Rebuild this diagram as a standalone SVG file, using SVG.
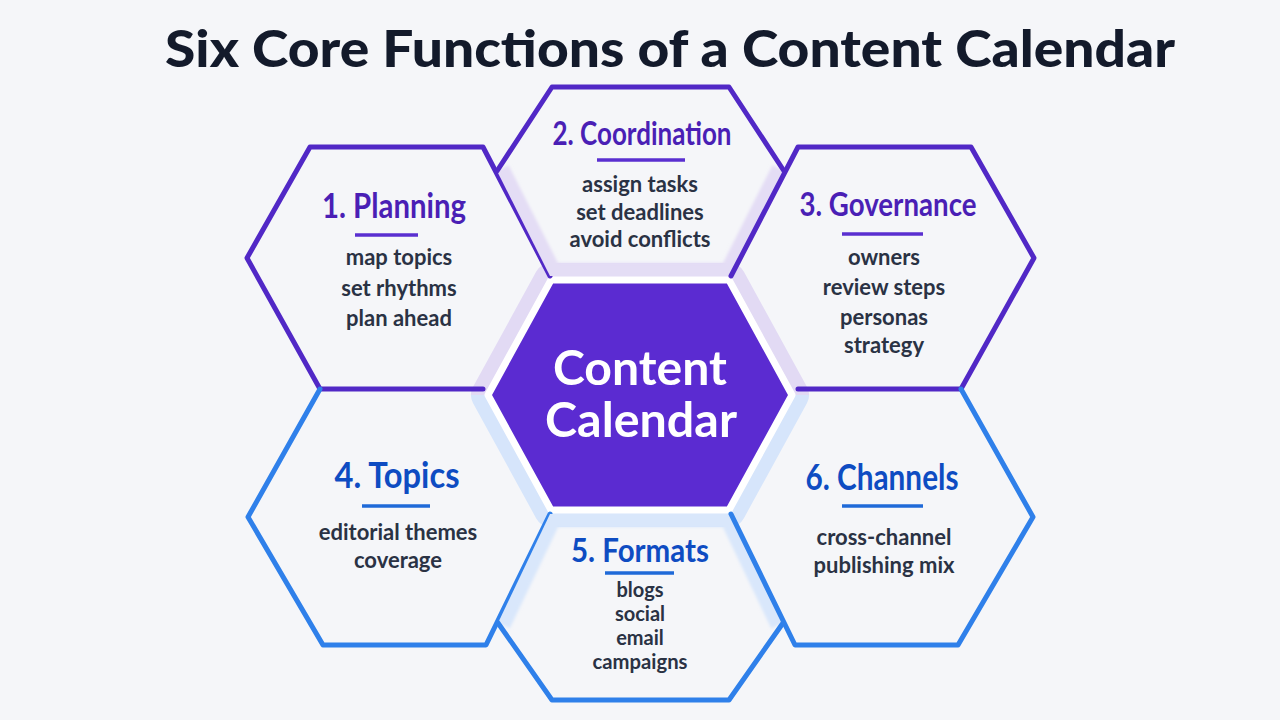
<svg xmlns="http://www.w3.org/2000/svg" width="1280" height="720" viewBox="0 0 1280 720">
  <defs>
    <linearGradient id="halo" gradientUnits="userSpaceOnUse" x1="0" y1="255" x2="0" y2="535">
      <stop offset="0" stop-color="#e2daf4"/>
      <stop offset="0.5" stop-color="#e2daf4"/>
      <stop offset="0.5" stop-color="#d6e5fb"/>
      <stop offset="1" stop-color="#d6e5fb"/>
    </linearGradient>
    <clipPath id="clip2"><polygon points="552,87 729,87 784,171 731,276 550,276 497,171"/></clipPath>
    <clipPath id="clip5"><polygon points="498,623 550,514 731,514 783,623 729,700 552,700"/></clipPath>
    <filter id="soft" x="-10%" y="-10%" width="120%" height="120%"><feGaussianBlur stdDeviation="1.5"/></filter>
  </defs>
  <style>
    .title { font-family: Lato, "Liberation Sans", sans-serif; font-weight: 900; font-size: 52px; fill: #131a2b; text-anchor: middle; }
    .edge { fill: none; stroke-width: 5; stroke-linejoin: round; stroke-linecap: round; }
    .ep { stroke: #5128c6; }
    .eb { stroke: #2f80ea; }
    .h { font-family: Lato, "Liberation Sans", sans-serif; font-weight: 700; text-anchor: middle; }
    .hp { fill: #4a1fb5; }
    .hb { fill: #0e4cc2; }
    .ul { stroke-width: 3.5; }
    .up { stroke: #5a2fd0; }
    .ub { stroke: #1f6ad8; }
    .b { font-family: Lato, "Liberation Sans", sans-serif; font-weight: 700; font-size: 22px; fill: #2a3244; text-anchor: middle; }
    .bs { font-size: 20px; }
    .ct { font-family: Lato, "Liberation Sans", sans-serif; font-weight: 700; font-size: 48px; fill: #ffffff; text-anchor: middle; }
    .band { fill: none; stroke-width: 26; stroke-linejoin: round; }
  </style>

  <rect x="0" y="0" width="1280" height="720" fill="#f5f6f9"/>

  <text class="title" x="670" y="67" textLength="1010" lengthAdjust="spacingAndGlyphs">Six Core Functions of a Content Calendar</text>

  <g id="connectors"></g>

  <g id="node-center">
    <polygon points="488,395 551,280 729,280 792,395 729,510 551,510" fill="none" stroke="url(#halo)" stroke-width="34" stroke-linejoin="round"/>
    <polygon points="488,395 551,280 729,280 792,395 729,510 551,510" fill="#5b2bd1" stroke="#ffffff" stroke-width="7" stroke-linejoin="round"/>
    <text class="ct" x="640" y="385" textLength="174" lengthAdjust="spacingAndGlyphs">Content</text>
    <text class="ct" x="641" y="437" textLength="192" lengthAdjust="spacingAndGlyphs">Calendar</text>
  </g>

  <g id="node-planning">
    <path class="edge ep" d="M550,276 L483,147 L310,147 L247,258 L320,389 L483,389"/>
    <text class="h hp" x="394" y="218" font-size="34" textLength="144" lengthAdjust="spacingAndGlyphs">1. Planning</text>
    <line class="ul up" x1="355" y1="235" x2="418" y2="235"/>
    <text class="b" x="399" y="265">map topics</text>
    <text class="b" x="399" y="296">set rhythms</text>
    <text class="b" x="399" y="326">plan ahead</text>
  </g>

  <g id="node-coordination">
    <path class="band" d="M497,171 L550,276 L731,276 L784,171" stroke="#e4ddf5" clip-path="url(#clip2)" filter="url(#soft)"/>
    <path class="edge ep" d="M497,171 L552,87 L729,87 L784,171"/>
    <text class="h hp" x="642" y="145" font-size="32" textLength="179" lengthAdjust="spacingAndGlyphs">2. Coordination</text>
    <line class="ul up" x1="597" y1="160" x2="685" y2="160"/>
    <text class="b" x="640" y="192">assign tasks</text>
    <text class="b" x="640" y="220">set deadlines</text>
    <text class="b" x="640" y="247">avoid conflicts</text>
  </g>

  <g id="node-governance">
    <path class="edge ep" d="M731,276 L798,147 L971,147 L1034,258 L961,389 L798,389"/>
    <text class="h hp" x="888" y="216" font-size="32" textLength="177" lengthAdjust="spacingAndGlyphs">3. Governance</text>
    <line class="ul up" x1="842" y1="234" x2="923" y2="234"/>
    <text class="b" x="884" y="265">owners</text>
    <text class="b" x="884" y="295">review steps</text>
    <text class="b" x="884" y="325">personas</text>
    <text class="b" x="884" y="353">strategy</text>
  </g>

  <g id="node-topics">
    <path class="edge eb" d="M320,389 L248,517 L323,645 L486,645 L550,514"/>
    <text class="h hb" x="397" y="488" font-size="36" textLength="125" lengthAdjust="spacingAndGlyphs">4. Topics</text>
    <line class="ul ub" x1="362" y1="506" x2="430" y2="506"/>
    <text class="b" x="398" y="540">editorial themes</text>
    <text class="b" x="398" y="568">coverage</text>
  </g>

  <g id="node-formats">
    <path class="band" d="M498,623 L550,514 L731,514 L783,623" stroke="#d9e7fb" clip-path="url(#clip5)" filter="url(#soft)"/>
    <path class="edge eb" d="M498,623 L552,700 L729,700 L783,623"/>
    <text class="h hb" x="640" y="562" font-size="33" textLength="138" lengthAdjust="spacingAndGlyphs">5. Formats</text>
    <line class="ul ub" x1="605" y1="573" x2="674" y2="573"/>
    <text class="b bs" x="640" y="597">blogs</text>
    <text class="b bs" x="640" y="621">social</text>
    <text class="b bs" x="640" y="645">email</text>
    <text class="b bs" x="640" y="669" textLength="95" lengthAdjust="spacingAndGlyphs">campaigns</text>
  </g>

  <g id="node-channels">
    <path class="edge eb" d="M961,389 L1033,517 L958,645 L795,645 L731,514"/>
    <text class="h hb" x="882" y="490" font-size="36" textLength="153" lengthAdjust="spacingAndGlyphs">6. Channels</text>
    <line class="ul ub" x1="842" y1="506" x2="923" y2="506"/>
    <text class="b" x="884" y="545">cross-channel</text>
    <text class="b" x="884" y="573">publishing mix</text>
  </g>
</svg>
